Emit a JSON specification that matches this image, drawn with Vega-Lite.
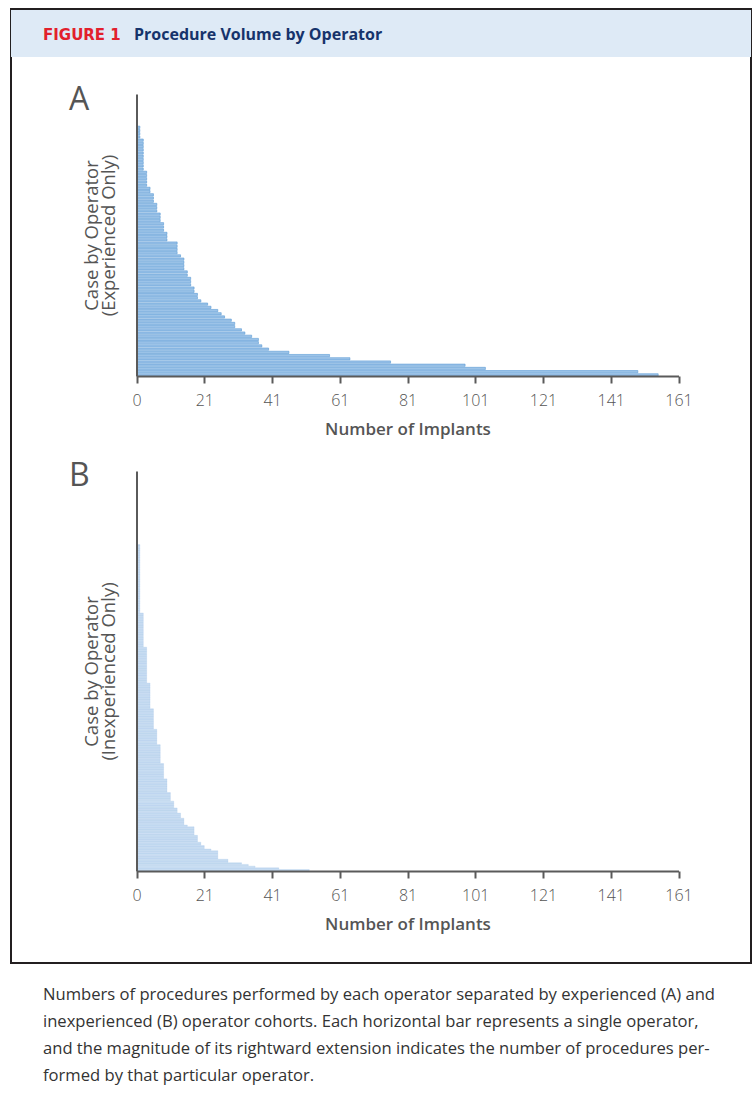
{
  "$schema": "https://vega.github.io/schema/vega-lite/v6.json",
  "padding": {"left": 10, "top": 8, "right": 0, "bottom": 0},
  "background": "white",
  "spacing": 0,
  "config": {
    "view": {"stroke": "#231f20", "strokeWidth": 2},
    "axis": {"grid": false}
  },
  "datasets": {
    "expA": [
      {"op":1,"n":1},{"op":2,"n":1},{"op":3,"n":1},{"op":4,"n":1},
      {"op":5,"n":2},{"op":6,"n":2},{"op":7,"n":2},{"op":8,"n":2},{"op":9,"n":2},{"op":10,"n":2},{"op":11,"n":2},{"op":12,"n":2},{"op":13,"n":2},{"op":14,"n":2},
      {"op":15,"n":3},{"op":16,"n":3},{"op":17,"n":3},{"op":18,"n":3},{"op":19,"n":3},
      {"op":20,"n":4},{"op":21,"n":4},
      {"op":22,"n":5},{"op":23,"n":5},{"op":24,"n":5},
      {"op":25,"n":6},{"op":26,"n":6},{"op":27,"n":6},
      {"op":28,"n":7},{"op":29,"n":7},{"op":30,"n":7},
      {"op":31,"n":8},{"op":32,"n":8},{"op":33,"n":8},
      {"op":34,"n":9},{"op":35,"n":9},{"op":36,"n":9},
      {"op":37,"n":12},{"op":38,"n":12},{"op":39,"n":12},{"op":40,"n":12},
      {"op":41,"n":13},
      {"op":42,"n":14},{"op":43,"n":14},{"op":44,"n":14},{"op":45,"n":14},
      {"op":46,"n":15},{"op":47,"n":15},
      {"op":48,"n":16},{"op":49,"n":16},{"op":50,"n":16},
      {"op":51,"n":17},{"op":52,"n":17},
      {"op":53,"n":18},{"op":54,"n":18},
      {"op":55,"n":19},{"op":56,"n":21},{"op":57,"n":22},{"op":58,"n":24},{"op":59,"n":25},{"op":60,"n":26},{"op":61,"n":28},
      {"op":62,"n":29},{"op":63,"n":29},{"op":64,"n":31},{"op":65,"n":32},{"op":66,"n":34},{"op":67,"n":36},{"op":68,"n":36},
      {"op":69,"n":37},{"op":70,"n":39},{"op":71,"n":45},{"op":72,"n":57},{"op":73,"n":63},{"op":74,"n":75},{"op":75,"n":97},
      {"op":76,"n":103},{"op":77,"n":148},{"op":78,"n":154}
    ],
    "inexpB": [
      {"op":1,"n":1},{"op":2,"n":1},{"op":3,"n":1},{"op":4,"n":1},{"op":5,"n":1},{"op":6,"n":1},{"op":7,"n":1},{"op":8,"n":1},{"op":9,"n":1},{"op":10,"n":1},
      {"op":11,"n":1},{"op":12,"n":1},{"op":13,"n":1},{"op":14,"n":1},{"op":15,"n":1},{"op":16,"n":1},{"op":17,"n":1},{"op":18,"n":1},{"op":19,"n":1},{"op":20,"n":1},
      {"op":21,"n":1},{"op":22,"n":1},{"op":23,"n":1},{"op":24,"n":1},{"op":25,"n":1},{"op":26,"n":1},{"op":27,"n":1},{"op":28,"n":1},{"op":29,"n":1},{"op":30,"n":1},
      {"op":31,"n":1},{"op":32,"n":1},{"op":33,"n":1},{"op":34,"n":1},{"op":35,"n":1},{"op":36,"n":1},{"op":37,"n":1},{"op":38,"n":1},{"op":39,"n":1},{"op":40,"n":1},
      {"op":41,"n":2},{"op":42,"n":2},{"op":43,"n":2},{"op":44,"n":2},{"op":45,"n":2},{"op":46,"n":2},{"op":47,"n":2},{"op":48,"n":2},{"op":49,"n":2},{"op":50,"n":2},
      {"op":51,"n":2},{"op":52,"n":2},{"op":53,"n":2},{"op":54,"n":2},{"op":55,"n":2},{"op":56,"n":2},{"op":57,"n":2},{"op":58,"n":2},{"op":59,"n":2},{"op":60,"n":2},
      {"op":61,"n":3},{"op":62,"n":3},{"op":63,"n":3},{"op":64,"n":3},{"op":65,"n":3},{"op":66,"n":3},{"op":67,"n":3},{"op":68,"n":3},{"op":69,"n":3},{"op":70,"n":3},
      {"op":71,"n":3},{"op":72,"n":3},{"op":73,"n":3},{"op":74,"n":3},{"op":75,"n":3},{"op":76,"n":3},{"op":77,"n":3},{"op":78,"n":3},{"op":79,"n":3},{"op":80,"n":3},{"op":81,"n":3},
      {"op":82,"n":4},{"op":83,"n":4},{"op":84,"n":4},{"op":85,"n":4},{"op":86,"n":4},{"op":87,"n":4},{"op":88,"n":4},{"op":89,"n":4},{"op":90,"n":4},{"op":91,"n":4},
      {"op":92,"n":4},{"op":93,"n":4},{"op":94,"n":4},{"op":95,"n":4},{"op":96,"n":4},
      {"op":97,"n":5},{"op":98,"n":5},{"op":99,"n":5},{"op":100,"n":5},{"op":101,"n":5},{"op":102,"n":5},{"op":103,"n":5},{"op":104,"n":5},{"op":105,"n":5},{"op":106,"n":5},{"op":107,"n":5},{"op":108,"n":5},
      {"op":109,"n":6},{"op":110,"n":6},{"op":111,"n":6},{"op":112,"n":6},{"op":113,"n":6},{"op":114,"n":6},{"op":115,"n":6},{"op":116,"n":6},{"op":117,"n":6},
      {"op":118,"n":7},{"op":119,"n":7},{"op":120,"n":7},{"op":121,"n":7},{"op":122,"n":7},{"op":123,"n":7},{"op":124,"n":7},{"op":125,"n":7},{"op":126,"n":7},{"op":127,"n":7},{"op":128,"n":7},
      {"op":129,"n":8},{"op":130,"n":8},{"op":131,"n":8},{"op":132,"n":8},{"op":133,"n":8},{"op":134,"n":8},{"op":135,"n":8},{"op":136,"n":8},{"op":137,"n":8},
      {"op":138,"n":9},{"op":139,"n":9},{"op":140,"n":9},{"op":141,"n":9},{"op":142,"n":9},{"op":143,"n":9},{"op":144,"n":9},{"op":145,"n":9},
      {"op":146,"n":10},{"op":147,"n":10},{"op":148,"n":10},{"op":149,"n":10},{"op":150,"n":10},
      {"op":151,"n":11},{"op":152,"n":11},{"op":153,"n":11},{"op":154,"n":11},
      {"op":155,"n":12},{"op":156,"n":12},{"op":157,"n":12},
      {"op":158,"n":13},{"op":159,"n":13},{"op":160,"n":13},
      {"op":161,"n":14},{"op":162,"n":14},{"op":163,"n":14},{"op":164,"n":14},
      {"op":165,"n":15},
      {"op":166,"n":17},{"op":167,"n":17},{"op":168,"n":17},{"op":169,"n":17},{"op":170,"n":17},
      {"op":171,"n":18},{"op":172,"n":18},{"op":173,"n":18},{"op":174,"n":18},
      {"op":175,"n":19},{"op":176,"n":19},{"op":177,"n":20},{"op":178,"n":20},{"op":179,"n":22},
      {"op":180,"n":24},{"op":181,"n":24},{"op":182,"n":24},{"op":183,"n":24},{"op":184,"n":24},
      {"op":185,"n":27},{"op":186,"n":27},{"op":187,"n":31},{"op":188,"n":33},{"op":189,"n":35},{"op":190,"n":42},{"op":191,"n":51}
    ]
  },
  "vconcat": [
    {
      "width": 740,
      "height": 954,
      "layer": [
        {
          "data": {"values": [{"k": "header"}]},
          "mark": {"type": "rect", "fill": "#deeaf6"},
          "encoding": {
            "y": {"field": "k", "type": "nominal", "scale": {"type": "band", "range": [1, 48], "paddingInner": 0, "paddingOuter": 0}, "axis": null}
          }
        },
        {
          "data": {"values": [{"k": "header", "piece": "FIGURE 1"}]},
          "mark": {"type": "text", "font": "DejaVu Sans", "fontSize": 15, "fontWeight": "bold", "color": "#e2202c", "align": "left", "baseline": "alphabetic"},
          "encoding": {
            "text": {"field": "piece", "type": "nominal"},
            "x": {"field": "piece", "type": "nominal", "scale": {"type": "point", "domain": ["FIGURE 1", "Procedure Volume by Operator"], "range": [32, 123], "padding": 0}, "axis": null},
            "y": {"field": "k", "type": "nominal", "scale": {"type": "point", "domain": ["header"], "range": [31.3, 31.3], "padding": 0}, "axis": null}
          }
        },
        {
          "data": {"values": [{"k": "header", "piece": "Procedure Volume by Operator"}]},
          "mark": {"type": "text", "font": "Open Sans", "fontSize": 16, "fontWeight": "bold", "color": "#16336b", "align": "left", "baseline": "alphabetic"},
          "encoding": {
            "text": {"field": "piece", "type": "nominal"},
            "x": {"field": "piece", "type": "nominal", "scale": {"type": "point", "domain": ["FIGURE 1", "Procedure Volume by Operator"], "range": [32, 123], "padding": 0}, "axis": null},
            "y": {"field": "k", "type": "nominal", "scale": {"type": "point", "domain": ["header"], "range": [31.3, 31.3], "padding": 0}, "axis": null}
          }
        },
        {
          "data": {"name": "expA"},
          "mark": {"type": "bar", "fill": "#9cc3e8", "stroke": "#5b9bd5", "strokeWidth": 0.6},
          "encoding": {
            "y": {
              "field": "op", "type": "ordinal",
              "scale": {
                "type": "band", "range": [85, 367], "paddingInner": 0.3, "paddingOuter": 0,
                "domain": [-9,-8,-7,-6,-5,-4,-3,-2,-1,0,1,2,3,4,5,6,7,8,9,10,11,12,13,14,15,16,17,18,19,20,21,22,23,24,25,26,27,28,29,30,31,32,33,34,35,36,37,38,39,40,41,42,43,44,45,46,47,48,49,50,51,52,53,54,55,56,57,58,59,60,61,62,63,64,65,66,67,68,69,70,71,72,73,74,75,76,77,78]
              },
              "axis": {
                "orient": "left", "offset": -125.5, "ticks": false, "labels": false, "zindex": 1,
                "domainColor": "#5a5a5a", "domainWidth": 2,
                "title": ["Case by Operator", "(Experienced Only)"],
                "titleFont": "Open Sans", "titleFontSize": 18.5, "titleFontWeight": "normal", "titleColor": "#555555",
                "titlePadding": 18, "titleLineHeight": 17
              }
            },
            "x": {
              "field": "n", "type": "quantitative",
              "scale": {"domain": [0, 160], "range": [125.5, 667.5], "nice": false, "zero": true},
              "axis": {
                "orient": "bottom", "offset": -587, "zindex": 1,
                "values": [0, 20, 40, 60, 80, 100, 120, 140, 160],
                "labelExpr": "datum.value == 0 ? '0' : format(datum.value + 1, 'd')",
                "domainColor": "#5a5a5a", "domainWidth": 2, "tickColor": "#5a5a5a", "tickWidth": 2, "tickSize": 7,
                "labelFont": "Open Sans", "labelFontSize": 16, "labelFontWeight": 300, "labelColor": "#555555", "labelPadding": 9, "labelFlush": false, "labelOverlap": false,
                "title": "Number of Implants", "titleFont": "Open Sans", "titleFontSize": 17, "titleFontWeight": 600, "titleColor": "#555555", "titlePadding": 13
              }
            }
          }
        },
        {
          "data": {"name": "inexpB"},
          "mark": {"type": "bar", "fill": "#c5dbf1", "stroke": "#a9c9ea", "strokeWidth": 0.3},
          "encoding": {
            "y": {
              "field": "op", "type": "ordinal",
              "scale": {
                "type": "band", "range": [462, 862], "paddingInner": 0.15, "paddingOuter": 0,
                "domain": [-42,-41,-40,-39,-38,-37,-36,-35,-34,-33,-32,-31,-30,-29,-28,-27,-26,-25,-24,-23,-22,-21,-20,-19,-18,-17,-16,-15,-14,-13,-12,-11,-10,-9,-8,-7,-6,-5,-4,-3,-2,-1,0,
                  1,2,3,4,5,6,7,8,9,10,11,12,13,14,15,16,17,18,19,20,21,22,23,24,25,26,27,28,29,30,31,32,33,34,35,36,37,38,39,40,
                  41,42,43,44,45,46,47,48,49,50,51,52,53,54,55,56,57,58,59,60,61,62,63,64,65,66,67,68,69,70,71,72,73,74,75,76,77,78,79,80,
                  81,82,83,84,85,86,87,88,89,90,91,92,93,94,95,96,97,98,99,100,101,102,103,104,105,106,107,108,109,110,111,112,113,114,115,116,117,118,119,120,
                  121,122,123,124,125,126,127,128,129,130,131,132,133,134,135,136,137,138,139,140,141,142,143,144,145,146,147,148,149,150,151,152,153,154,155,156,157,158,159,160,
                  161,162,163,164,165,166,167,168,169,170,171,172,173,174,175,176,177,178,179,180,181,182,183,184,185,186,187,188,189,190,191]
              },
              "axis": {
                "orient": "left", "offset": -125.5, "ticks": false, "labels": false, "zindex": 1,
                "domainColor": "#5a5a5a", "domainWidth": 2,
                "title": ["Case by Operator", "(Inexperienced Only)"],
                "titleFont": "Open Sans", "titleFontSize": 18.5, "titleFontWeight": "normal", "titleColor": "#555555",
                "titlePadding": 18, "titleLineHeight": 17
              }
            },
            "x": {
              "field": "n", "type": "quantitative",
              "scale": {"domain": [0, 160], "range": [125.5, 667.5], "nice": false, "zero": true},
              "axis": {
                "orient": "bottom", "offset": -92, "zindex": 1,
                "values": [0, 20, 40, 60, 80, 100, 120, 140, 160],
                "labelExpr": "datum.value == 0 ? '0' : format(datum.value + 1, 'd')",
                "domainColor": "#5a5a5a", "domainWidth": 2, "tickColor": "#5a5a5a", "tickWidth": 2, "tickSize": 7,
                "labelFont": "Open Sans", "labelFontSize": 16, "labelFontWeight": 300, "labelColor": "#555555", "labelPadding": 9, "labelFlush": false, "labelOverlap": false,
                "title": "Number of Implants", "titleFont": "Open Sans", "titleFontSize": 17, "titleFontWeight": 600, "titleColor": "#555555", "titlePadding": 13
              }
            }
          }
        },
        {
          "data": {"values": [{"panel": "A"}, {"panel": "B"}]},
          "mark": {"type": "text", "font": "Open Sans", "fontSize": 32, "color": "#555555", "align": "left", "baseline": "alphabetic"},
          "encoding": {
            "text": {"field": "panel", "type": "nominal"},
            "x": {"datum": -19.9, "type": "quantitative", "scale": {"domain": [0, 160], "range": [125.5, 667.5], "nice": false, "zero": false}, "axis": null},
            "y": {"field": "panel", "type": "nominal", "scale": {"type": "point", "domain": ["A", "B"], "range": [101, 477], "padding": 0}, "axis": null}
          }
        }
      ],
      "resolve": {
        "scale": {"x": "independent", "y": "independent"},
        "axis": {"x": "independent", "y": "independent"}
      }
    },
    {
      "width": 740,
      "height": 144,
      "title": {
        "text": [
          "Numbers of procedures performed by each operator separated by experienced (A) and",
          "inexperienced (B) operator cohorts. Each horizontal bar represents a single operator,",
          "and the magnitude of its rightward extension indicates the number of procedures per-",
          "formed by that particular operator."
        ],
        "orient": "top",
        "anchor": "start",
        "frame": "group",
        "offset": -121,
        "dx": 32,
        "baseline": "top",
        "font": "Open Sans",
        "fontSize": 16.6,
        "fontWeight": "normal",
        "color": "#333333",
        "lineHeight": 27
      },
      "data": {"values": []},
      "mark": "rect",
      "encoding": {}
    }
  ]
}
